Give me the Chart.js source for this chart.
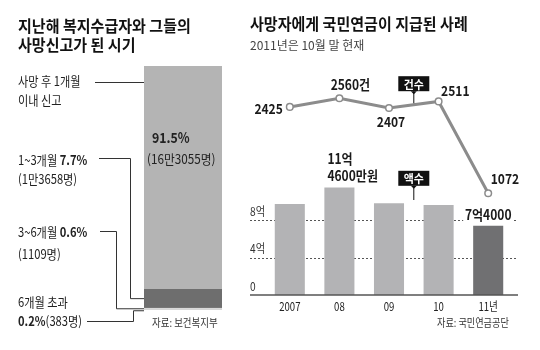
<!DOCTYPE html>
<html><head><meta charset="utf-8">
<script src="https://cdn.jsdelivr.net/npm/chart.js@4.4.0/dist/chart.umd.min.js"></script>
<style>
html,body{margin:0;padding:0;background:#fff;}
#wrap{position:relative;width:540px;height:350px;overflow:hidden;font-family:'Noto Sans CJK KR','Noto Sans',sans-serif;color:#222;}
canvas{position:absolute;left:0;top:0;}
.t{position:absolute;white-space:nowrap;line-height:20px;height:20px;}
.t b{font-weight:700;}
</style></head><body>
<div id="wrap">
<canvas id="left" width="540" height="350"></canvas>
<canvas id="right" width="540" height="350"></canvas>
</div>
<script>
// ---------- data ----------
// left: timing of death report (top to bottom)
const leftCategories = [['사망 후 1개월', '이내 신고'], '1~3개월', '3~6개월', '6개월 초과'];
const leftPercent = [91.5, 7.7, 0.6, 0.2];
const leftCounts = ['16만3055명', '1만3658명', '1109명', '383명'];
const leftSource = '자료: 보건복지부';

// right: pension paid to deceased
const years = ['2007', '08', '09', '10', '11년'];
const cases = [2425, 2560, 2407, 2511, 1072];
const caseLabels = ['2425', '2560건', '2407', '2511', '1072'];
const amounts = [9.7, 11.46, 9.8, 9.6, 7.4]; // 억원
const amountLabels = ['', ['11억', '4600만원'], '', '', '7억4000'];
const yTickValues = [0, 4, 8];
const yTickLabels = ['0', '4억', '8억'];
const rightSource = '자료: 국민연금공단';

// ---------- helpers ----------
const FONT = "'Noto Sans CJK KR','Noto Sans',sans-serif";
const wrap = document.getElementById('wrap');
function addText(html, x, cy, size, weight, sx, color, align) {
  const d = document.createElement('div');
  d.className = 't';
  d.innerHTML = html;
  d.style.fontSize = size + 'px';
  d.style.fontWeight = weight;
  d.style.color = color || '#222';
  d.style.top = (cy - 10) + 'px';
  if (align === 'right') { d.style.right = (540 - x) + 'px'; d.style.transformOrigin = '100% 50%'; }
  else { d.style.left = x + 'px'; d.style.transformOrigin = '0 50%'; }
  d.style.transform = 'scaleX(' + sx + ')';
  wrap.appendChild(d);
}
function txt(ctx, s, x, y, size, weight, align, color, sx, bg) {
  ctx.save();
  ctx.translate(x, y);
  ctx.scale(sx, 1);
  ctx.font = weight + ' ' + size + 'px ' + FONT;
  ctx.textAlign = align;
  ctx.textBaseline = 'middle';
  if (bg) {
    const w = ctx.measureText(s).width;
    const x0 = align === 'center' ? -w / 2 : (align === 'right' ? -w : 0);
    ctx.fillStyle = bg;
    ctx.fillRect(x0 - 2, -size * 0.45, w + 4, size * 0.9);
  }
  ctx.fillStyle = color;
  ctx.fillText(s, 0, 0);
  ctx.restore();
}

// ---------- static texts ----------
addText('지난해 복지수급자와 그들의', 18, 25, 15.5, 700, 0.97, '#111');
addText('사망신고가 된 시기', 18, 43.5, 15.5, 700, 0.97, '#111');
addText('사망자에게 국민연금이 지급된 사례', 250, 22.5, 15.5, 700, 0.97, '#111');
addText('2011년은 10월 말 현재', 250, 45, 12, 400, 1, '#444');

addText(leftCategories[0][0], 18, 81, 13, 400, 0.86);
addText(leftCategories[0][1], 18, 100, 13, 400, 0.86);
addText('<b>' + leftPercent[0] + '%</b>', 152, 136.7, 14, 400, 0.88);
addText('(' + leftCounts[0] + ')', 147, 159.3, 13, 400, 0.9);
addText(leftCategories[1] + ' <b>' + leftPercent[1] + '%</b>', 18, 159.5, 13, 400, 0.86);
addText('(' + leftCounts[1] + ')', 18, 178.5, 13, 400, 0.86);
addText(leftCategories[2] + ' <b>' + leftPercent[2] + '%</b>', 18, 231.5, 13, 400, 0.86);
addText('(' + leftCounts[2] + ')', 18, 254, 13, 400, 0.86);
addText(leftCategories[3], 18, 301.5, 13, 400, 0.86);
addText('<b>' + leftPercent[3] + '%</b>(' + leftCounts[3] + ')', 18, 321, 13, 400, 0.86);
addText(leftSource, 152, 321.7, 11, 400, 0.86, '#333');
addText(rightSource, 437, 321.7, 11, 400, 0.83, '#333');

// ---------- left chart ----------
const leftColors = ['#b4b4b4', '#6e6e6e', '#b4b4b4', '#b4b4b4'];
const leftDatasets = leftPercent.map((v, i) => ({
  data: [v],
  backgroundColor: leftColors[i],
  borderColor: '#ffffff',
  borderWidth: i >= 2 ? { top: 1, left: 0, right: 0, bottom: 0 } : 0,
  borderSkipped: false,
  barPercentage: 1,
  categoryPercentage: 1
})).reverse();

const leftConnectors = {
  id: 'leftConnectors',
  afterDatasetsDraw(chart) {
    const ctx = chart.ctx, y = chart.scales.y, area = chart.chartArea;
    const bx = area.left;
    const n = leftPercent.length;
    const mids = [];
    let acc = 0;
    for (let i = n - 1; i >= 0; i--) { mids[i] = y.getPixelForValue(acc + leftPercent[i] / 2); acc += leftPercent[i]; }
    ctx.save();
    ctx.strokeStyle = '#333';
    ctx.lineWidth = 1;
    const path = pts => { ctx.beginPath(); ctx.moveTo(pts[0][0], pts[0][1]); for (let k = 1; k < pts.length; k++) ctx.lineTo(pts[k][0], pts[k][1]); ctx.stroke(); };
    path([[95, 82.5], [bx, 82.5]]);
    path([[99, 158.5], [130.5, 158.5], [130.5, mids[1]], [bx, mids[1]]]);
    path([[100, 231.5], [116.5, 231.5], [116.5, mids[2]], [bx, mids[2]]]);
    path([[87, 321.5], [133.5, 321.5], [133.5, mids[3] + 1], [bx, mids[3] + 1]]);
    ctx.restore();
  }
};

new Chart(document.getElementById('left'), {
  type: 'bar',
  data: { labels: ['합계'], datasets: leftDatasets },
  options: {
    responsive: false, animation: false, devicePixelRatio: 1,
    layout: { padding: { left: 144, right: 318, top: 66, bottom: 40 } },
    plugins: { legend: { display: false }, tooltip: { enabled: false } },
    scales: {
      x: { stacked: true, display: false },
      y: { stacked: true, display: false, min: 0, max: 100 }
    }
  },
  plugins: [leftConnectors]
});

// ---------- right chart ----------
const LINE_C = '#8c8c8c';
const rightDeco = {
  id: 'rightDeco',
  beforeDatasetsDraw(chart) {
    const ctx = chart.ctx, y = chart.scales.y;
    ctx.save();
    ctx.strokeStyle = '#555';
    ctx.lineWidth = 1;
    ctx.setLineDash([2, 2]);
    yTickValues.forEach(v => {
      if (v === 0) return;
      const py = Math.round(y.getPixelForValue(v)) + 0.5;
      ctx.beginPath(); ctx.moveTo(250, py); ctx.lineTo(518, py); ctx.stroke();
    });
    ctx.setLineDash([]);
    yTickValues.forEach((v, i) => txt(ctx, yTickLabels[i], 250, y.getPixelForValue(v) - 9, 12, 'normal', 'left', '#333', 0.85));
    ctx.restore();
  },
  afterDatasetsDraw(chart) {
    const ctx = chart.ctx, y = chart.scales.y, x = chart.scales.x;
    const lineMeta = chart.getDatasetMeta(0).data;
    const barMeta = chart.getDatasetMeta(1).data;
    ctx.save();
    const by = y.getPixelForValue(0);
    ctx.strokeStyle = '#555'; ctx.lineWidth = 1.5;
    ctx.beginPath(); ctx.moveTo(250, by); ctx.lineTo(518, by); ctx.stroke();
    const C = '#1a1a1a';
    const p = lineMeta;
    txt(ctx, caseLabels[0], p[0].x - 7, p[0].y + 1.5, 14, 'bold', 'right', C, 0.86);
    txt(ctx, caseLabels[1], p[1].x + 11, p[1].y - 14, 14, 'bold', 'center', C, 0.86);
    txt(ctx, caseLabels[2], p[2].x + 2, p[2].y + 14, 14, 'bold', 'center', C, 0.86);
    txt(ctx, caseLabels[3], p[3].x + 2.5, p[3].y - 11, 14, 'bold', 'left', C, 0.86);
    txt(ctx, caseLabels[4], p[4].x + 2.5, p[4].y - 15, 14, 'bold', 'left', C, 0.86);
    const b1 = barMeta[1], b4 = barMeta[4];
    txt(ctx, amountLabels[1][0], b1.x - 12, b1.y - 29, 14, 'bold', 'left', C, 0.86);
    txt(ctx, amountLabels[1][1], b1.x - 12, b1.y - 12, 14, 'bold', 'left', C, 0.86);
    txt(ctx, amountLabels[4], b4.x, b4.y - 10.5, 14, 'bold', 'center', C, 0.86, '#fff');
    years.forEach((yr, i) => txt(ctx, yr, x.getPixelForValue(i), 306.7, 12, 'normal', 'center', '#222', 0.8));
    const mx = (x.getPixelForValue(2) + x.getPixelForValue(3)) / 2;
    const lineY = (p[2].y + p[3].y) / 2;
    const tag = (label, cy, endY) => {
      const w = 31, h = 15;
      ctx.fillStyle = '#111';
      ctx.fillRect(mx - w / 2, cy - h / 2, w, h);
      ctx.beginPath();
      ctx.moveTo(mx - 3, cy + h / 2); ctx.lineTo(mx + 3, cy + h / 2); ctx.lineTo(mx, cy + h / 2 + 3); ctx.closePath(); ctx.fill();
      ctx.strokeStyle = '#111'; ctx.lineWidth = 1;
      ctx.beginPath(); ctx.moveTo(mx, cy + h / 2); ctx.lineTo(mx, endY); ctx.stroke();
      txt(ctx, label, mx, cy + 0.5, 11.5, 'bold', 'center', '#fff', 0.95);
    };
    tag('건수', 83.7, lineY - 1.5);
    tag('액수', 178.3, 200);
    ctx.restore();
  }
};

new Chart(document.getElementById('right'), {
  data: {
    labels: years,
    datasets: [
      {
        type: 'line', data: cases, yAxisID: 'y2', order: 0,
        borderColor: LINE_C, borderWidth: 3, tension: 0,
        pointRadius: 3.3, pointBorderWidth: 1.5,
        pointBackgroundColor: '#fff', pointBorderColor: LINE_C
      },
      {
        type: 'bar', data: amounts, yAxisID: 'y', order: 1,
        backgroundColor: ['#b3b3b5', '#b3b3b5', '#b3b3b5', '#b3b3b5', '#707072'],
        barPercentage: 0.606, categoryPercentage: 1
      }
    ]
  },
  options: {
    responsive: false, animation: false, devicePixelRatio: 1,
    layout: { padding: { left: 265, right: 27, top: 70, bottom: 55 } },
    plugins: { legend: { display: false }, tooltip: { enabled: false } },
    scales: {
      x: { type: 'category', display: false, offset: true },
      y: { display: false, min: 0, max: 24 },
      y2: { display: false, min: -521, max: 3003 }
    }
  },
  plugins: [rightDeco]
});
</script>
</body></html>
